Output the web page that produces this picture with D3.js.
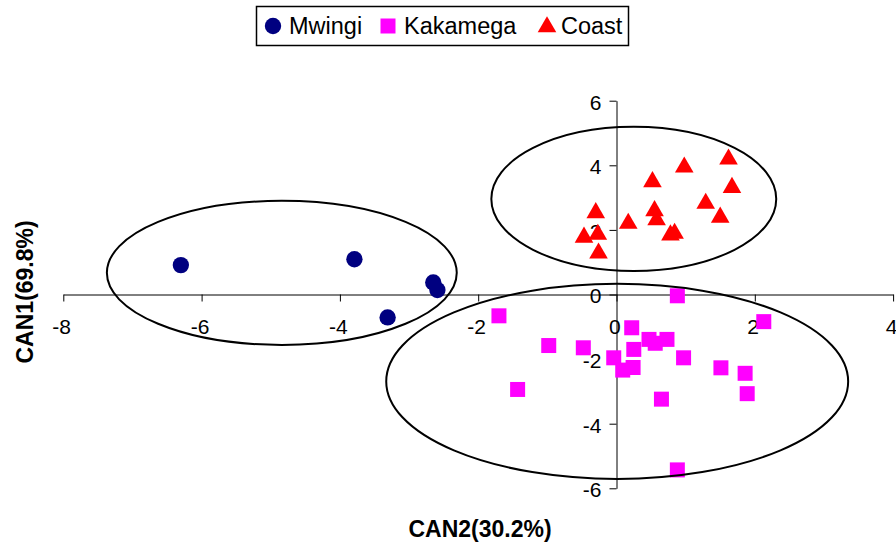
<!DOCTYPE html>
<html>
<head>
<meta charset="utf-8">
<script src="https://cdn.jsdelivr.net/npm/d3@7"></script>
<style>
  html, body { margin: 0; padding: 0; background: #fff; }
  svg { display: block; font-family: Arial, "Liberation Sans", sans-serif; }
</style>
</head>
<body>
<svg id="chart" width="896" height="546"></svg>
<script>
// Canonical discriminant scores: [CAN2, CAN1]
const mwingi = [
  [-6.30, 0.91], [-3.79, 1.09], [-2.65, 0.37], [-2.59, 0.14], [-3.31, -0.71]
];
const kakamega = [
  [-1.70, -0.66], [-0.98, -1.58], [-0.48, -1.65], [-1.43, -2.94], [-0.04, -1.96],
  [0.09, -2.34], [0.24, -2.26], [0.22, -1.03], [0.25, -1.70], [0.47, -1.39],
  [0.56, -1.51], [0.73, -1.39], [0.88, -0.04], [0.97, -1.96], [0.65, -3.24],
  [0.88, -5.43], [1.51, -2.27], [1.86, -2.44], [1.89, -3.07], [2.13, -0.84]
];
const coast = [
  [-0.30, 2.53], [-0.47, 1.77], [-0.27, 1.86], [-0.26, 1.28], [0.17, 2.20],
  [0.52, 3.49], [0.55, 2.59], [0.58, 2.31], [0.78, 1.84], [0.84, 1.89],
  [0.98, 3.94], [1.29, 2.82], [1.50, 2.39], [1.62, 4.19], [1.67, 3.31]
];
// Group ellipses: [centre x, centre y, radius x, radius y]
const groupEllipses = [
  [-4.84, 0.67, 2.53, 2.23],
  [0.01, -2.69, 3.34, 3.02],
  [0.25, 2.96, 2.06, 2.23]
];
const xTicks = [-8, -6, -4, -2, 0, 2, 4];
const yTicks = [-6, -4, -2, 0, 2, 4, 6];
const seriesNames = ["Mwingi", "Kakamega", "Coast"];

const svg = d3.select("#chart");
const x = d3.scaleLinear().domain([-8, 4]).range([63.3, 893.1]);
const y = d3.scaleLinear().domain([-6, 6]).range([488.3, 100.7]);
const plain = d => String(d); // hyphen-minus, as printed on the axes

// axes crossing at the origin
const xAxis = svg.append("g")
  .attr("transform", `translate(0,${y(0)})`)
  .call(d3.axisBottom(x).tickValues(xTicks).tickFormat(plain)
    .tickSize(7).tickSizeOuter(0).tickPadding(18));
const yAxis = svg.append("g")
  .attr("transform", `translate(${x(0)},0)`)
  .call(d3.axisLeft(y).tickValues(yTicks).tickFormat(plain)
    .tickSize(7).tickSizeOuter(0).tickPadding(8));
[xAxis, yAxis].forEach(g => {
  g.selectAll("path, line").attr("stroke", "#000").attr("stroke-width", 1);
  g.selectAll("text").attr("font-size", 21).attr("fill", "#000")
    .attr("font-family", "Arial, 'Liberation Sans', sans-serif");
});
yAxis.selectAll("text").attr("dy", "0.4em");
xAxis.selectAll("text").attr("dx", "-0.1em");

// markers
const sym = {
  circle: d3.symbol().type(d3.symbolCircle).size(210),
  square: d3.symbol().type(d3.symbolSquare).size(225),
  triangle: d3.symbol().type(d3.symbolTriangle).size(150)
};
const series = [
  { data: mwingi, color: "#000080", shape: sym.circle },
  { data: kakamega, color: "#FF00FF", shape: sym.square },
  { data: coast, color: "#FF0000", shape: sym.triangle }
];
series.forEach(s => {
  svg.append("g").selectAll("path").data(s.data).join("path")
    .attr("d", s.shape)
    .attr("transform", d => `translate(${x(d[0])},${y(d[1])})`)
    .attr("fill", s.color);
});

// group ellipses
svg.append("g").selectAll("ellipse").data(groupEllipses).join("ellipse")
  .attr("cx", d => x(d[0]))
  .attr("cy", d => y(d[1]))
  .attr("rx", d => x(d[0] + d[2]) - x(d[0]))
  .attr("ry", d => y(d[1] - d[3]) - y(d[1]))
  .attr("fill", "none")
  .attr("stroke", "#000")
  .attr("stroke-width", 2);

// axis titles
svg.append("text")
  .attr("x", 480).attr("y", 537)
  .attr("text-anchor", "middle")
  .attr("font-size", 23).attr("font-weight", "bold")
  .text("CAN2(30.2%)");
svg.append("text")
  .attr("transform", "translate(33,292) rotate(-90)")
  .attr("text-anchor", "middle")
  .attr("font-size", 23).attr("font-weight", "bold")
  .text("CAN1(69.8%)");

// legend
const legend = svg.append("g");
legend.append("rect")
  .attr("x", 256.5).attr("y", 6.5).attr("width", 372).attr("height", 39)
  .attr("fill", "#fff").attr("stroke", "#000").attr("stroke-width", 1.5);
const legendItems = [
  { name: seriesNames[0], mx: 273, tx: 289, s: series[0] },
  { name: seriesNames[1], mx: 388, tx: 404, s: series[1] },
  { name: seriesNames[2], mx: 547, tx: 561, s: series[2] }
];
legendItems.forEach(it => {
  legend.append("path")
    .attr("d", it.s.shape)
    .attr("transform", `translate(${it.mx},${it.s === series[2] ? 27 : 26})`)
    .attr("fill", it.s.color);
  legend.append("text")
    .attr("x", it.tx).attr("y", 34)
    .attr("font-size", 23.5)
    .attr("fill", "#000")
    .text(it.name);
});
</script>
</body>
</html>
